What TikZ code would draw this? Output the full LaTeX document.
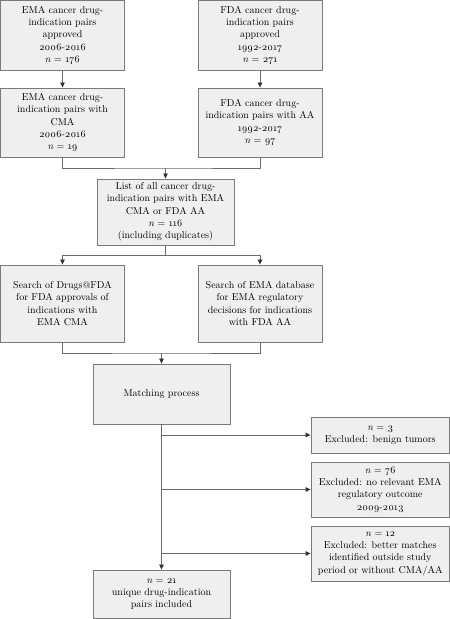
\documentclass[tikz,border=0pt]{standalone}
\usepackage{fontspec}
\setmainfont{Latin Modern Roman}[Numbers=OldStyle]
\usetikzlibrary{arrows.meta}
\definecolor{boxfill}{HTML}{EFEFEF}
\definecolor{boxline}{HTML}{7A7A7A}
\definecolor{conn}{HTML}{6A6A6A}
\definecolor{tipc}{HTML}{333333}
\tikzset{
  box/.style={draw=boxline, line width=0.9pt, fill=boxfill, align=center, inner sep=0pt,
    font=\fontsize{10}{12.3}\selectfont, text=black},
  link/.style={draw=conn, line width=0.8pt},
  arr/.style={link, -{Triangle[length=5pt,width=4.5pt,color=tipc]}},
}
\begin{document}
\begin{tikzpicture}[x=1pt,y=-1pt]
\useasboundingbox (0,0) rectangle (450,619);
\node[box, minimum width=124pt, minimum height=69.5pt] (a) at (62.5,35.25) {EMA cancer drug-\\indication pairs\\approved\\2006-2016\\\textit{n} = 176};
\node[box, minimum width=124pt, minimum height=69.5pt] (b) at (260,35.25) {FDA cancer drug-\\indication pairs\\approved\\1992-2017\\\textit{n} = 271};
\node[box, minimum width=124pt, minimum height=69pt] (c) at (62.5,122.5) {EMA cancer drug-\\indication pairs with\\CMA\\2006-2016\\\textit{n} = 19};
\node[box, minimum width=124pt, minimum height=69pt] (d) at (260,122.5) {FDA cancer drug-\\indication pairs with AA\\1992-2017\\\textit{n} = 97};
\node[box, minimum width=137pt, minimum height=66pt] (e) at (165.5,212) {List of all cancer drug-\\indication pairs with EMA\\CMA or FDA AA\\\textit{n} = 116\\(including duplicates)};
\node[box, minimum width=124pt, minimum height=77pt] (f) at (62.5,303.5) {Search of Drugs@FDA\\for FDA approvals of\\indications with\\EMA CMA};
\node[box, minimum width=124pt, minimum height=77pt] (g) at (260,303.5) {Search of EMA database\\for EMA regulatory\\decisions for indications\\with FDA AA};
\node[box, minimum width=137pt, minimum height=60pt] (h) at (161.5,394) {Matching process};
\node[box, minimum width=137pt, minimum height=48.5pt] (i) at (161.5,594.25) {\textit{n} = 21\\unique drug-indication\\pairs included};
\node[box, minimum width=138.5pt, minimum height=36pt] (j) at (380.25,435) {\textit{n} = 3\\Excluded: benign tumors};
\node[box, minimum width=138.5pt, minimum height=55pt] (k) at (380.25,489.5) {\textit{n} = 76\\Excluded: no relevant EMA\\regulatory outcome\\2009-2013};
\node[box, minimum width=138.5pt, minimum height=55pt] (l) at (380.25,553.5) {\textit{n} = 12\\Excluded: better matches\\identified outside study\\period or without CMA/AA};
\coordinate (m1) at (165.5,168);
\coordinate (m2) at (165.5,255);
\coordinate (m3) at (161.5,353);
\coordinate (b1) at (161.5,435);
\coordinate (b2) at (161.5,489.5);
\coordinate (b3) at (161.5,553.5);
\draw[arr] (a.south) -- (c.north);
\draw[arr] (b.south) -- (d.north);
\draw[link] (c.south) |- (m1) -| (d.south);
\draw[arr] (m1) -- (e.north);
\draw[link] (e.south) -- (m2);
\draw[arr] (m2) -| (f.north);
\draw[arr] (m2) -| (g.north);
\draw[link] (f.south) |- (m3) -| (g.south);
\draw[arr] (m3) -- (h.north);
\draw[arr] (h.south) -- (i.north);
\draw[arr] (b1) -- (j.west);
\draw[arr] (b2) -- (k.west);
\draw[arr] (b3) -- (l.west);
\end{tikzpicture}
\end{document}
